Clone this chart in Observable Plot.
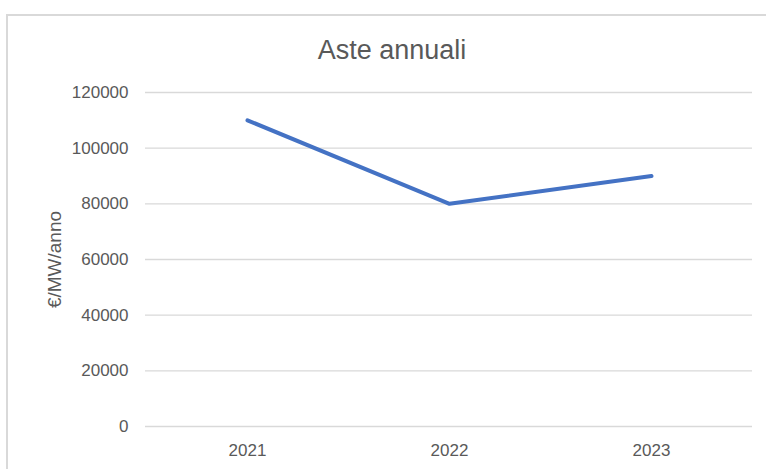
<!DOCTYPE html>
<html>
<head>
<meta charset="utf-8">
<script src="https://cdn.jsdelivr.net/npm/d3@7"></script>
<script src="https://cdn.jsdelivr.net/npm/@observablehq/plot@0.6"></script>
<style>
  html, body { margin: 0; padding: 0; background: #fff; overflow: hidden; }
  #wrap { position: relative; width: 766px; height: 469px; overflow: hidden; }
  #frame { position: absolute; left: 6px; top: 14px; width: 800px; height: 500px; border: 2px solid #d9d9d9; box-sizing: border-box; pointer-events: none; }
  #chart { position: absolute; left: 0; top: 0; }
</style>
</head>
<body>
<div id="wrap"><div id="chart"></div><div id="frame"></div></div>
<script>
const years = ["2021", "2022", "2023"];
const values = [110000, 80000, 90000];
const yTicks = [0, 20000, 40000, 60000, 80000, 100000, 120000];
const title = "Aste annuali";
const yLabel = "€/MW/anno";

const data = years.map((y, i) => ({year: y, value: values[i]}));
const font = "'Liberation Sans', Arial, sans-serif";

const chart = Plot.plot({
  width: 766,
  height: 469,
  marginLeft: 145,
  marginRight: 14,
  marginTop: 92,
  marginBottom: 43,
  style: {fontFamily: font, fontSize: "17px", color: "#595959", background: "transparent"},
  x: {type: "point", domain: years, padding: 0.5, label: null},
  y: {domain: [0, 120000], ticks: yTicks, label: null},
  marks: [
    Plot.gridY(yTicks, {stroke: "#d9d9d9", strokeOpacity: 1, strokeWidth: 1.3}),
    Plot.axisY(yTicks, {tickSize: 0, tickPadding: 17, tickFormat: d => String(d), fill: "#595959", fontSize: 17, label: null}),
    Plot.axisX({tickSize: 0, tickPadding: 17, fill: "#595959", fontSize: 17, label: null}),
    Plot.line(data, {x: "year", y: "value", stroke: "#4472C4", strokeWidth: 4, strokeLinecap: "round", strokeLinejoin: "round"}),
    Plot.text([title], {frameAnchor: "top", text: d => d, dx: -57, dy: -53, fontSize: 27, fill: "#595959"}),
    Plot.text([yLabel], {frameAnchor: "left", text: d => d, rotate: -90, textAnchor: "middle", dx: -91, dy: 0, fontSize: 19, fill: "#595959"})
  ]
});
document.getElementById("chart").appendChild(chart);
</script>
</body>
</html>
